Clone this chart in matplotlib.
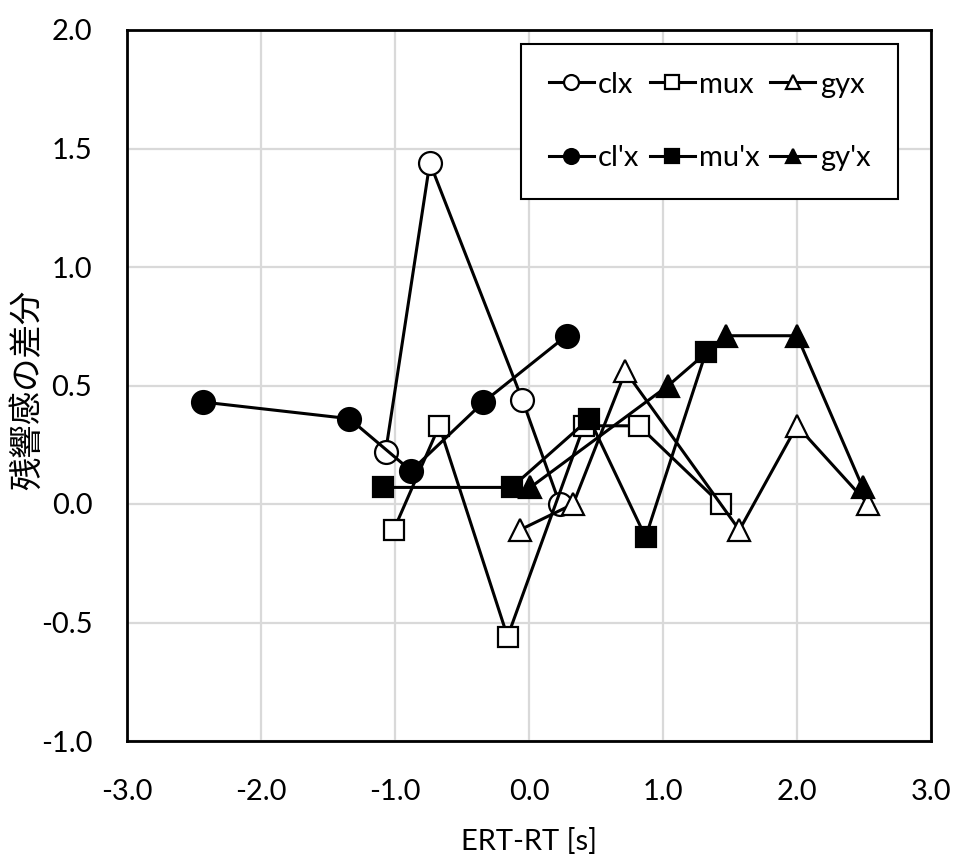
import matplotlib
matplotlib.use("Agg")
import matplotlib.pyplot as plt

# Data
clx_x = [-1.07, -0.74, -0.05, 0.23]
clx_y = [0.22, 1.44, 0.44, 0.00]
mux_x = [-1.01, -0.67, -0.16, 0.41, 0.82, 1.43]
mux_y = [-0.11, 0.33, -0.56, 0.33, 0.33, 0.00]
gyx_x = [-0.07, 0.33, 0.72, 1.57, 2.00, 2.53]
gyx_y = [-0.11, 0.00, 0.56, -0.11, 0.33, 0.00]
clpx_x = [-2.43, -1.34, -0.88, -0.34, 0.28]
clpx_y = [0.43, 0.36, 0.14, 0.43, 0.71]
mupx_x = [-1.09, -0.13, 0.45, 0.87, 1.32]
mupx_y = [0.07, 0.07, 0.36, -0.14, 0.64]
gypx_x = [0.01, 1.04, 1.47, 2.00, 2.49]
gypx_y = [0.07, 0.50, 0.71, 0.71, 0.07]

x_ticks = [-3.0, -2.0, -1.0, 0.0, 1.0, 2.0, 3.0]
y_ticks = [-1.0, -0.5, 0.0, 0.5, 1.0, 1.5, 2.0]

W, H = 955, 861
L, R, T, B = 127, 931, 30, 741

fig = plt.figure(figsize=(W / 100, H / 100), dpi=100)
ax = fig.add_axes([L / W, 1 - B / H, (R - L) / W, (B - T) / H])

lw = 2.2
mew = 1.6
series = [
    (clx_x, clx_y, 'o', 'white', 16.5, 'clx'),
    (mux_x, mux_y, 's', 'white', 14.5, 'mux'),
    (gyx_x, gyx_y, '^', 'white', 16, 'gyx'),
    (clpx_x, clpx_y, 'o', 'black', 16.5, "cl'x"),
    (mupx_x, mupx_y, 's', 'black', 14.5, "mu'x"),
    (gypx_x, gypx_y, '^', 'black', 16, "gy'x"),
]
handles = {}
for i, (xs, ys, m, fc, ms, lab) in enumerate(series):
    h, = ax.plot(xs, ys, color='black', lw=lw, marker=m, markersize=ms,
                 markerfacecolor=fc, markeredgecolor='black', markeredgewidth=mew,
                 label=lab, zorder=3 + i)
    handles[lab] = h

ax.set_xlim(-3, 3)
ax.set_ylim(-1, 2)
ax.set_xticks(x_ticks)
ax.set_yticks(y_ticks)
ax.set_xticklabels([f"{v:.1f}" for v in x_ticks], family='Lato', fontsize=21)
ax.set_yticklabels([f"{v:.1f}" for v in y_ticks], family='Lato', fontsize=21)
ax.tick_params(axis='both', length=0)
ax.tick_params(axis='x', pad=27)
ax.tick_params(axis='y', pad=25)
ax.grid(True, color='#d9d9d9', lw=1.6, zorder=0)
ax.set_axisbelow(True)
for s in ax.spines.values():
    s.set_linewidth(2)
    s.set_color('black')

ax.set_xlabel('ERT-RT [s]', family='Lato', fontsize=21, labelpad=17)
fig.text(28 / W, 1 - 390 / H, '残響感の差分', rotation=90, ha='center', va='center',
         family=['Noto Sans CJK JP', 'DejaVu Sans'], fontsize=24)

order = ['clx', "cl'x", 'mux', "mu'x", 'gyx', "gy'x"]
leg = ax.legend([handles[k] for k in order], order, ncol=3, loc='upper right',
                bbox_to_anchor=((898 - L) / (R - L), (B - 44) / (B - T)),
                bbox_transform=ax.transAxes,
                prop={'family': 'Lato', 'size': 21}, markerscale=0.65,
                handlelength=1.55, handletextpad=0.15, columnspacing=0.35,
                labelspacing=1.63, borderpad=0.95, borderaxespad=0,
                fancybox=False, framealpha=1, edgecolor='black')
leg.get_frame().set_linewidth(1.5)
leg.set_zorder(20)

fig.savefig('out.png', dpi=100)
